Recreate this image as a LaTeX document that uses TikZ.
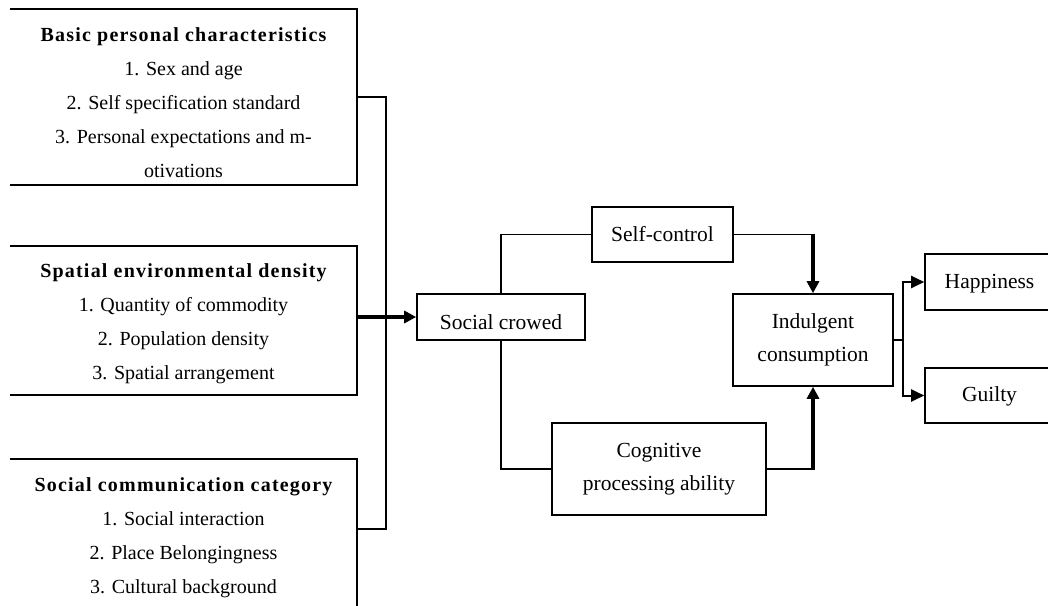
\documentclass[tikz,border=0pt]{standalone}
\usepackage{fontspec}
\setmainfont{Liberation Serif}
\usetikzlibrary{arrows.meta}

\newcommand{\factorhead}[1]{{\bfseries\addfontfeature{LetterSpace=6}#1}}

\tikzset{
  factor/.style={minimum width=347pt, inner sep=0pt},
  factortext/.style={align=center, inner sep=0pt, font=\fontsize{20}{34}\selectfont},
  block/.style={draw, line width=1.6pt, align=center, inner sep=0pt, font=\fontsize{21.5}{33}\selectfont},
  link/.style={line width=1.6pt},
  thickarrow/.style={line width=3.2pt, -{Triangle[length=12pt,width=12pt]}},
  outarrow/.style={line width=2pt, -{Triangle[length=13pt,width=12pt]}}
}

\begin{document}
\begin{tikzpicture}[x=1pt, y=-1pt]
    \useasboundingbox (0,0) rectangle (1048,605);

    % Influencing factors on the left
    \node[factor, minimum height=176pt] (b1) at (183.5,97) {};
    \node[factortext] (t1) at (183.5,103) {\factorhead{Basic personal characteristics}\\
        1. Sex and age\\ 2. Self specification standard\\
        3. Personal expectations and m-\\ otivations};
    \node[factor, minimum height=149pt] (b2) at (183.5,320.5) {};
    \node[factortext] (t2) at (183.5,324) {\factorhead{Spatial environmental density}\\
        1. Quantity of commodity\\ 2. Population density\\ 3. Spatial arrangement};
    \node[factor, minimum height=156pt] (b3) at (183.5,537) {};
    \node[factortext] (t3) at (183.5,538) {\factorhead{Social communication category}\\
        1. Social interaction\\ 2. Place Belongingness\\ 3. Cultural background};

    % Frames, open on the left side
    \draw[link] (b1.north west) -| (b1.south east) -- (b1.south west);
    \draw[link] (b2.north west) -| (b2.south east) -- (b2.south west);
    \draw[link] (b3.north west) -| (b3.south east) -- (b3.south west);

    % Middle and right blocks
    \node[block, minimum width=168pt, minimum height=46pt, text height=24pt, text depth=0pt] (sc) at (501,317) {Social crowed};
    \node[block, minimum width=141pt, minimum height=55pt] (selfc) at (662.5,234.5) {Self-control};
    \node[block, minimum width=214pt, minimum height=92pt] (cog) at (659,469) {Cognitive\\ processing ability};
    \node[block, minimum width=160pt, minimum height=92pt] (ind) at (813,340) {Indulgent\\ consumption};
    \node[block, minimum width=129pt, minimum height=56pt, text height=16pt, text depth=4pt] (hap) at (989.5,282) {Happiness};
    \node[block, minimum width=129pt, minimum height=55pt, text height=16pt, text depth=4pt] (gui) at (989.5,395.5) {Guilty};

    \coordinate (bus) at (386,317);
    \coordinate (split) at ([xshift=9pt]ind.east);

    % Bracket from the factors to social crowding
    \draw[link] (b1.east) -| (bus) |- ([yshift=8pt]b3.east);
    \draw[thickarrow] (b2.east |- sc.west) -- (sc.west);

    % Two paths to indulgent consumption
    \draw[link] (sc.north) |- (selfc.west);
    \draw[link] (selfc.east) -- (selfc.east -| ind.north);
    \draw[thickarrow] ([yshift=0.8pt]selfc.east -| ind.north) -- (ind.north);
    \draw[link] (sc.south) |- (cog.west);
    \draw[link] (cog.east) -- (cog.east -| ind.south);
    \draw[thickarrow] ([yshift=-0.8pt]cog.east -| ind.south) -- (ind.south);

    % Outcomes
    \draw[link] (ind.east) -- (split);
    \draw[outarrow] (split) |- (hap.west);
    \draw[outarrow] (split) |- (gui.west);
\end{tikzpicture}
\end{document}
